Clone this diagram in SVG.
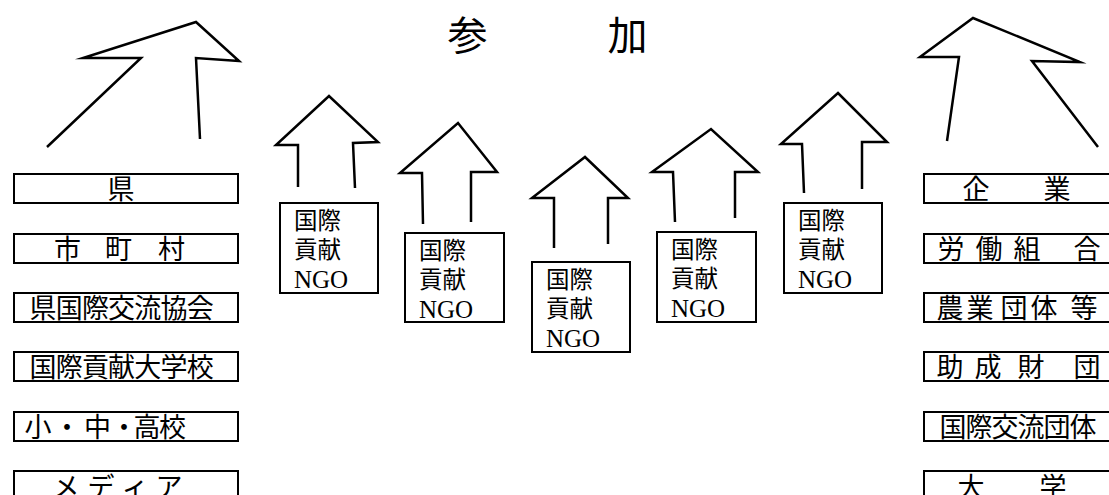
<svg xmlns="http://www.w3.org/2000/svg" width="1109" height="495" viewBox="0 0 1109 495">
<style>
.box{fill:#fff;stroke:#000;stroke-width:2}
.lbl{font-family:"Noto Sans CJK JP","Noto Sans CJK SC",sans-serif;font-size:27px;text-anchor:middle;fill:#000}
.ngo{font-family:"Noto Sans CJK JP",sans-serif;font-size:23.5px;fill:#000}
.ngoen{font-family:"Liberation Serif",serif;font-size:25px;fill:#000}
.title{font-family:"Noto Sans CJK JP",sans-serif;font-size:40px;text-anchor:middle;fill:#000}
.arrow{fill:none;stroke:#000;stroke-width:2.5;stroke-linejoin:miter;stroke-miterlimit:10}
</style>
<rect width="1109" height="495" fill="#fff"/>
<g id="title"><text class="title" x="467.5 627.5" y="50">参加</text></g>
<g id="connectors">
<path class="arrow" d="M47,147 L141,58 L83,58 L196,22 L239,61 L196,58 L200,139"/>
<path class="arrow" d="M947,141 L959,57 L920,57 L973,18 L1080,62 L1032,61 L1098,147"/>
<path class="arrow" d="M298,187 L298,145 L276,145 L329,96 L378,142 L353,143 L355,188"/>
<path class="arrow" d="M423,224 L422,173 L400,173 L458,123 L497,172 L471,172 L471,222"/>
<path class="arrow" d="M554,248 L554,198 L532,198 L585,157 L628,198 L608,198 L608,244"/>
<path class="arrow" d="M675,222 L673,172 L652,172 L711,129 L758,172 L735,172 L735,218"/>
<path class="arrow" d="M804,193 L802,144 L781,144 L838,93 L887,142 L862,142 L862,189"/>
</g>
<g id="ken"><rect class="box" x="14" y="174" width="224" height="29"/><text class="lbl" x="121" y="198.5">県</text></g>
<g id="shichoson"><rect class="box" x="14" y="234" width="224" height="29"/><text class="lbl" x="67.5 118.5 171.5" y="258.5">市町村</text></g>
<g id="kenkokusai"><rect class="box" x="14" y="293" width="224" height="29"/><text class="lbl" x="43 69.2 95.4 121.6 147.8 174 200.2" y="318">県国際交流協会</text></g>
<g id="daigakko"><rect class="box" x="14" y="352" width="224" height="29"/><text class="lbl" x="43 69.2 95.4 121.6 147.8 174 200.2" y="377">国際貢献大学校</text></g>
<g id="gakko"><rect class="box" x="14" y="412" width="224" height="29"/><text class="lbl" x="38 67 97.5 124 147 172.5" y="436.5">小・中・高校</text></g>
<g id="media"><rect class="box" x="14" y="471" width="224" height="40"/><text class="lbl" x="66 101 135 169" y="496.5">メディア</text></g>
<g id="kigyo"><rect class="box" x="924" y="174" width="200" height="29"/><text class="lbl" x="976 1057" y="198.5">企業</text></g>
<g id="rodo"><rect class="box" x="924" y="234" width="200" height="29"/><text class="lbl" x="951 989 1027 1087" y="258.5">労働組合</text></g>
<g id="nogyo"><rect class="box" x="924" y="293" width="200" height="29"/><text class="lbl" x="950 980 1014 1044 1084" y="318">農業団体等</text></g>
<g id="josei"><rect class="box" x="924" y="352" width="200" height="29"/><text class="lbl" x="950 988 1031 1087" y="377">助成財団</text></g>
<g id="kokusaikoryu"><rect class="box" x="924" y="412" width="200" height="29"/><text class="lbl" x="953 979 1005 1031 1057 1083" y="436.5">国際交流団体</text></g>
<g id="daigaku"><rect class="box" x="924" y="471" width="200" height="40"/><text class="lbl" x="971 1053" y="496.5">大学</text></g>
<g id="ngo1"><rect class="box" x="280" y="203" width="98" height="90"/><text class="ngo" x="294" y="228.5">国際</text><text class="ngo" x="294" y="258">貢献</text><text class="ngoen" x="294" y="288">NGO</text></g>
<g id="ngo2"><rect class="box" x="405" y="233" width="99" height="89"/><text class="ngo" x="419" y="258.5">国際</text><text class="ngo" x="419" y="288">貢献</text><text class="ngoen" x="419" y="318">NGO</text></g>
<g id="ngo3"><rect class="box" x="532" y="262" width="98" height="90"/><text class="ngo" x="546" y="287.5">国際</text><text class="ngo" x="546" y="317">貢献</text><text class="ngoen" x="546" y="347">NGO</text></g>
<g id="ngo4"><rect class="box" x="657" y="232" width="99" height="90"/><text class="ngo" x="671" y="257.5">国際</text><text class="ngo" x="671" y="287">貢献</text><text class="ngoen" x="671" y="317">NGO</text></g>
<g id="ngo5"><rect class="box" x="784" y="203" width="98" height="90"/><text class="ngo" x="798" y="228.5">国際</text><text class="ngo" x="798" y="258">貢献</text><text class="ngoen" x="798" y="288">NGO</text></g>
</svg>
